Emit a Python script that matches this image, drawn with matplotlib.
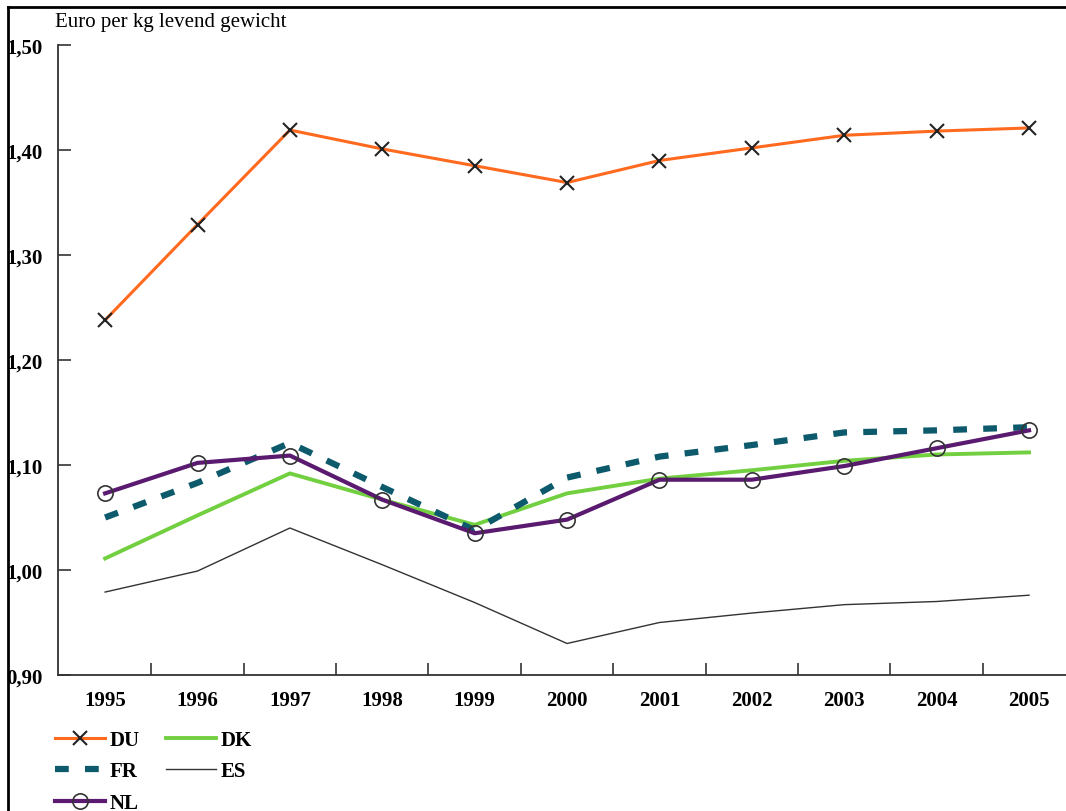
import matplotlib.pyplot as plt
import numpy as np
from matplotlib.lines import Line2D
from matplotlib.ticker import FixedLocator

plt.rcParams['font.family'] = ['Liberation Serif', 'DejaVu Serif']

years = ['1995', '1996', '1997', '1998', '1999', '2000',
         '2001', '2002', '2003', '2004', '2005']
du = [1.238, 1.329, 1.419, 1.401, 1.385, 1.369, 1.390, 1.402, 1.414, 1.418, 1.421]
fr = [1.050, 1.083, 1.121, 1.079, 1.038, 1.088, 1.108, 1.119, 1.131, 1.133, 1.136]
nl = [1.073, 1.102, 1.109, 1.067, 1.035, 1.048, 1.086, 1.086, 1.099, 1.116, 1.133]
dk = [1.011, 1.052, 1.092, 1.067, 1.043, 1.073, 1.087, 1.095, 1.104, 1.110, 1.112]
es = [0.979, 0.999, 1.040, 1.005, 0.969, 0.930, 0.950, 0.959, 0.967, 0.970, 0.976]
yticks = [0.90, 1.00, 1.10, 1.20, 1.30, 1.40, 1.50]

fig = plt.figure(figsize=(10.66, 8.12), dpi=100)
ax = fig.add_axes([58/1066, 1-676/812, 1-58/1066, (676-46)/812])
x = np.arange(len(years))

ax.plot(x, du, color='#ff6a1f', lw=2.2, marker='x', ms=10, mec='#222222', mew=1.5, label='DU', zorder=5)
ax.plot(x, fr, color='#0c5a6c', lw=4.5, ls=(0, (2.2, 2.6)), label='FR', zorder=3)
ax.plot(x, nl, color='#5a1a70', lw=3, marker='o', ms=11, mfc='none', mec='#333333', mew=1.2, label='NL', zorder=4)
ax.plot(x, dk, color='#72d040', lw=2.8, label='DK', zorder=2)
ax.plot(x, es, color='#333333', lw=1.0, label='ES', zorder=2)

ax.set_xlim(-0.51, 10.4)
ax.set_ylim(0.90, 1.50)
ax.spines['top'].set_visible(False)
ax.spines['right'].set_visible(False)
for s in ['left', 'bottom']:
    ax.spines[s].set_linewidth(1.3)
    ax.spines[s].set_color('#333333')

# years as labels at the points, ticks between categories
ax.xaxis.set_major_locator(FixedLocator(x + 0.5))
ax.xaxis.set_minor_locator(FixedLocator(x))
ax.set_xticklabels([])
ax.set_xticklabels(years, minor=True)
ax.tick_params(axis='x', which='major', direction='in', length=9, width=1.2, color='#333333')
ax.tick_params(axis='x', which='minor', length=0, pad=11, labelsize=15)

ax.set_yticks(yticks)
ax.set_yticklabels([f'{v:.2f}'.replace('.', ',') for v in yticks])
ax.tick_params(axis='y', direction='in', length=9, width=1.2, color='#333333', pad=11, labelsize=15)
for t in ax.get_xticklabels(minor=True) + ax.get_yticklabels():
    t.set_fontweight('bold')

fig.text(55/1066, 1-22/812, 'Euro per kg levend gewicht', fontsize=15, va='center', ha='left')

fig.legend(loc='upper left', bbox_to_anchor=(55/1066, 1-731/812), ncol=2, frameon=False,
           prop={'weight': 'bold', 'size': 15}, handlelength=2.4, handletextpad=0.2,
           labelspacing=0.55, columnspacing=1.3, borderpad=0, borderaxespad=0)

# outer frame of the original picture
fig.add_artist(Line2D([8/1066, 8/1066], [0, 1-8/812], color='black', lw=2, transform=fig.transFigure))
fig.add_artist(Line2D([8/1066, 1], [1-8/812, 1-8/812], color='black', lw=2, transform=fig.transFigure))

fig.savefig('out.png', dpi=100)
